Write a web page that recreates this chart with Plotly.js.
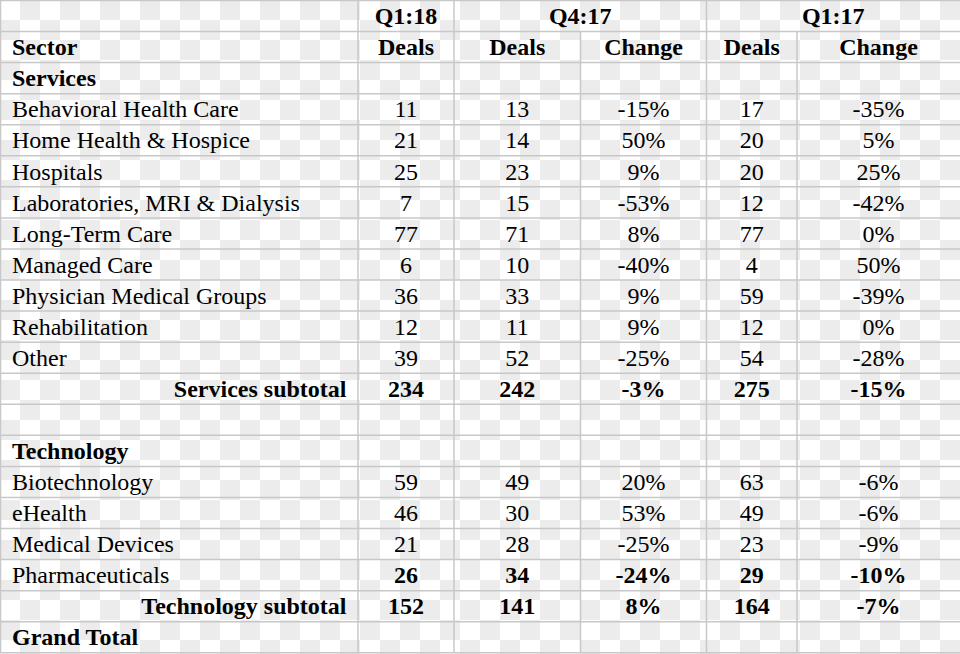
<!DOCTYPE html>
<html>
<head>
<meta charset="utf-8">
<script src="https://cdn.plot.ly/plotly-3.0.1.min.js"></script>
<style>
  html, body { margin: 0; padding: 0; }
  #chart {
    width: 960px; height: 654px;
    background-color: #ffffff;
    background-image: conic-gradient(#ececec 0 25%, #ffffff 0 50%, #ececec 0 75%, #ffffff 0);
    background-size: 40px 40px;
    background-position: 0 0;
  }
</style>
</head>
<body>
<div id="chart"></div>
<script>
// ---------------- data ----------------
const periodHeaders = ["Q1:18", "Q4:17", "Q1:17"];
const subHeaders = ["Deals", "Deals", "Change", "Deals", "Change"];

const servicesSectors = ["Behavioral Health Care", "Home Health & Hospice", "Hospitals",
  "Laboratories, MRI & Dialysis", "Long-Term Care", "Managed Care",
  "Physician Medical Groups", "Rehabilitation", "Other"];
const servicesQ118Deals = [11, 21, 25, 7, 77, 6, 36, 12, 39];
const servicesQ417Deals = [13, 14, 23, 15, 71, 10, 33, 11, 52];
const servicesQ417Change = [-15, 50, 9, -53, 8, -40, 9, 9, -25];
const servicesQ117Deals = [17, 20, 20, 12, 77, 4, 59, 12, 54];
const servicesQ117Change = [-35, 5, 25, -42, 0, 50, -39, 0, -28];
const servicesSubtotal = [234, 242, -3, 275, -15];

const techSectors = ["Biotechnology", "eHealth", "Medical Devices", "Pharmaceuticals"];
const techQ118Deals = [59, 46, 21, 26];
const techQ417Deals = [49, 30, 28, 34];
const techQ417Change = [20, 53, -25, -24];
const techQ117Deals = [63, 49, 23, 29];
const techQ117Change = [-6, -6, -9, -10];
const techSubtotal = [152, 141, 8, 164, -7];
const boldValueRows = ["Pharmaceuticals"];

// ---------------- layout constants ----------------
const W = 960, H = 654;
const colEdges = [0, 358, 454, 580.5, 706.5, 797, 960];
const nRows = 21;
const rowH = 31.06, top0 = 0.5;
const FONT = "'Liberation Serif', 'Times New Roman', serif";
const FS = 24;
const LINE = "#c8c8c8";
const padL = 12, padR = 11.5;
const textDrop = 0.07; // vertical nudge of text within a row (row units)

const colCenter = i => (colEdges[i] + colEdges[i + 1]) / 2;
const pct = v => v + "%";
const bold = s => "<b>" + s + "</b>";
const rowMid = r => r + 0.5 + textDrop;

// ---------------- build cells ----------------
const left = {x: [], y: [], t: []};
const right = {x: [], y: [], t: []};
const center = {x: [], y: [], t: []};
function addCenterAt(x, row, txt) { center.x.push(x); center.y.push(rowMid(row)); center.t.push(txt); }
function addCenter(col, row, txt) { addCenterAt(colCenter(col), row, txt); }
function addLeft(row, txt) { left.x.push(padL); left.y.push(rowMid(row)); left.t.push(txt); }
function addRight(row, txt) { right.x.push(colEdges[1] - padR); right.y.push(rowMid(row)); right.t.push(txt); }
function addValues(row, vals, isBold) {
  const f = isBold ? bold : (s => s);
  addCenter(1, row, f(String(vals[0])));
  addCenter(2, row, f(String(vals[1])));
  addCenter(3, row, f(pct(vals[2])));
  addCenter(4, row, f(String(vals[3])));
  addCenter(5, row, f(pct(vals[4])));
}

// header rows
addCenter(1, 0, bold(periodHeaders[0]));
addCenterAt((colEdges[2] + colEdges[4]) / 2, 0, bold(periodHeaders[1]));
addCenterAt((colEdges[4] + colEdges[6]) / 2, 0, bold(periodHeaders[2]));
addLeft(1, bold("Sector"));
subHeaders.forEach((h, i) => addCenter(i + 1, 1, bold(h)));

// services
let row = 2;
addLeft(row, bold("Services")); row++;
servicesSectors.forEach((s, i) => {
  addLeft(row, s);
  addValues(row, [servicesQ118Deals[i], servicesQ417Deals[i], servicesQ417Change[i], servicesQ117Deals[i], servicesQ117Change[i]], boldValueRows.includes(s));
  row++;
});
addRight(row, bold("Services subtotal"));
addValues(row, servicesSubtotal, true); row++;
row++; // blank row
addLeft(row, bold("Technology")); row++;
techSectors.forEach((s, i) => {
  addLeft(row, s);
  addValues(row, [techQ118Deals[i], techQ417Deals[i], techQ417Change[i], techQ117Deals[i], techQ117Change[i]], boldValueRows.includes(s));
  row++;
});
addRight(row, bold("Technology subtotal"));
addValues(row, techSubtotal, true); row++;
addLeft(row, bold("Grand Total"));

const font = {family: FONT, size: FS, color: "#000000"};
function textTrace(g, pos) {
  return {type: "scatter", mode: "text", x: g.x, y: g.y, text: g.t,
    textposition: pos, textfont: font, hoverinfo: "skip", showlegend: false, cliponaxis: false};
}
const traces = [textTrace(center, "middle center"), textTrace(left, "middle right"), textTrace(right, "middle left")];

// ---------------- grid lines ----------------
const shapes = [];
function hline(r, x0, x1) { shapes.push({type: "line", xref: "x", yref: "y", x0: x0, x1: x1, y0: r, y1: r, line: {color: LINE, width: 1.5}}); }
function vline(x, r0, r1) { shapes.push({type: "line", xref: "x", yref: "y", x0: x, x1: x, y0: r0, y1: r1, line: {color: LINE, width: 1.5}}); }
for (let r = 0; r <= nRows; r++) hline(r, 0, W);
vline(0.5, 0, nRows);
vline(colEdges[1], 0, nRows);
vline(colEdges[2], 0, nRows);
vline(colEdges[3], 1, nRows);
vline(colEdges[4], 0, nRows);
vline(colEdges[5], 1, nRows);

const yTop = -top0 / rowH;
const yBot = (H - top0) / rowH;

const layout = {
  width: W, height: H,
  margin: {l: 0, r: 0, t: 0, b: 0, pad: 0},
  paper_bgcolor: "rgba(0,0,0,0)",
  plot_bgcolor: "rgba(0,0,0,0)",
  xaxis: {range: [0, W], visible: false, fixedrange: true},
  yaxis: {range: [yBot, yTop], visible: false, fixedrange: true},
  shapes: shapes,
  showlegend: false
};

Plotly.newPlot("chart", traces, layout, {displayModeBar: false, staticPlot: true});
</script>
</body>
</html>
